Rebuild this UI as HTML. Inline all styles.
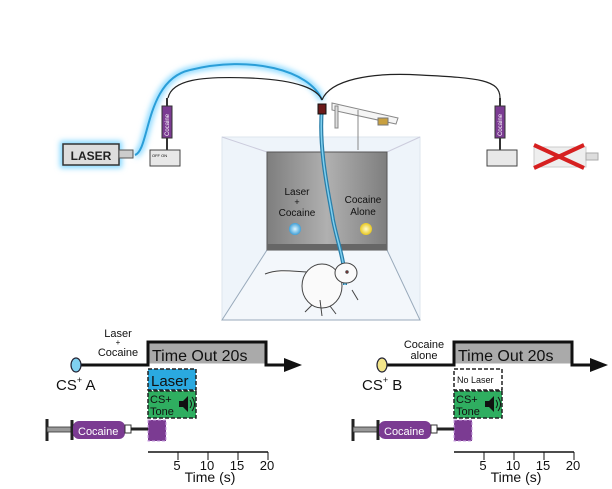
<!DOCTYPE html>
<html><head><meta charset="utf-8"><style>
html,body{margin:0;padding:0;background:#fff;width:612px;height:489px;overflow:hidden}
svg{display:block;font-family:"Liberation Sans",Arial,sans-serif}
</style></head><body>
<svg width="612" height="489" viewBox="0 0 612 489">
<defs>
<filter id="glow" x="-50%" y="-50%" width="200%" height="200%"><feGaussianBlur stdDeviation="3"/></filter>
<radialGradient id="blueL"><stop offset="0" stop-color="#e0f6ff"/><stop offset="1" stop-color="#3fa0d8"/></radialGradient>
<radialGradient id="yelL"><stop offset="0" stop-color="#fffbd0"/><stop offset="1" stop-color="#e8c820"/></radialGradient>
<linearGradient id="wallG" x1="0" x2="1"><stop offset="0" stop-color="#7e7e7e"/><stop offset="0.5" stop-color="#b0b0b0"/><stop offset="1" stop-color="#7e7e7e"/></linearGradient>
</defs>

<!-- chamber -->
<g>
<rect x="222" y="137" width="198" height="183" fill="#eef4fa" stroke="#dde6ee"/>
<line x1="222" y1="137" x2="267" y2="152" stroke="#ccd" />
<line x1="420" y1="137" x2="387" y2="152" stroke="#ccd"/>
<polygon points="267,250 387,250 420,320 222,320" fill="#f3f7fb" stroke="#9ab" stroke-width="1"/>
<rect x="267" y="152" width="120" height="98" fill="url(#wallG)" stroke="#555"/>
<rect x="267" y="244" width="120" height="6" fill="#666"/>
<text x="297" y="195" font-size="10" fill="#111" text-anchor="middle">Laser</text>
<text x="297" y="205" font-size="9" fill="#111" text-anchor="middle">+</text>
<text x="297" y="216" font-size="10" fill="#111" text-anchor="middle">Cocaine</text>
<text x="363" y="203" font-size="10" fill="#111" text-anchor="middle">Cocaine</text>
<text x="363" y="215" font-size="10" fill="#111" text-anchor="middle">Alone</text>
<circle cx="295" cy="229" r="6" fill="url(#blueL)"/>
<circle cx="366" cy="229" r="6" fill="url(#yelL)"/>
</g>

<!-- cables -->
<path d="M135,155 C150,150 145,80 190,70 C250,55 310,70 322,100" fill="none" stroke="#7fd6ff" stroke-width="6" filter="url(#glow)"/>
<path d="M135,155 C150,150 145,80 190,70 C250,55 310,70 322,100" fill="none" stroke="#2a9ed8" stroke-width="2"/>
<path d="M168,98 C172,80 200,76 250,78 C300,80 318,90 322,100" fill="none" stroke="#222" stroke-width="1.2"/>
<path d="M322,100 C330,80 370,72 420,75 C480,78 500,80 500,98" fill="none" stroke="#222" stroke-width="1.2"/>
<path d="M322,108 C318,150 330,200 333,220 C338,245 345,260 345,285" fill="none" stroke="#2a7ea8" stroke-width="4"/>
<path d="M322,108 C318,150 330,200 333,220 C338,245 345,260 345,285" fill="none" stroke="#7fd0f0" stroke-width="1.5"/>
<!-- swivel arm -->
<rect x="318" y="104" width="8" height="10" fill="#6b1a1a" stroke="#111"/>
<polygon points="332,103 398,118 396,124 332,110" fill="#f5f5f5" stroke="#888"/>
<rect x="378" y="118" width="10" height="7" fill="#c8a040" stroke="#777"/>
<line x1="358" y1="110" x2="358" y2="150" stroke="#888"/>
<rect x="335" y="106" width="3" height="22" fill="#ddd" stroke="#888"/>

<!-- laser -->
<g>
<rect x="60" y="141" width="62" height="27" fill="#7fd6ff" filter="url(#glow)"/>
<rect x="63" y="144" width="56" height="21" fill="#ddd" stroke="#333" stroke-width="1.5"/>
<text x="91" y="160" font-size="12" font-weight="bold" text-anchor="middle" fill="#222">LASER</text>
<rect x="119" y="150" width="14" height="8" fill="#ccc" stroke="#555"/>
</g>
<!-- left syringe pump -->
<g>
<rect x="162" y="106" width="10" height="32" fill="#7b3b92" stroke="#333"/>
<text transform="translate(169,136) rotate(-90)" font-size="6" fill="#fff">Cocaine</text>
<line x1="167" y1="98" x2="167" y2="106" stroke="#333" stroke-width="2"/>
<line x1="167" y1="138" x2="167" y2="150" stroke="#333" stroke-width="2"/>
<rect x="150" y="150" width="30" height="16" fill="#e8e8e8" stroke="#444"/>
<text x="152" y="157" font-size="4">OFF  ON</text>
</g>
<!-- right syringe pump -->
<g>
<rect x="495" y="106" width="10" height="32" fill="#7b3b92" stroke="#333"/>
<text transform="translate(502,136) rotate(-90)" font-size="6" fill="#fff">Cocaine</text>
<line x1="500" y1="98" x2="500" y2="106" stroke="#333" stroke-width="2"/>
<line x1="500" y1="138" x2="500" y2="150" stroke="#333" stroke-width="2"/>
<rect x="487" y="150" width="30" height="16" fill="#e8e8e8" stroke="#444"/>
</g>
<g>
<rect x="534" y="147" width="52" height="20" fill="#eee" stroke="#ccc"/>
<rect x="586" y="153" width="12" height="7" fill="#ddd" stroke="#aaa"/>
<line x1="534" y1="145" x2="584" y2="168" stroke="#d62020" stroke-width="4"/>
<line x1="534" y1="168" x2="584" y2="145" stroke="#d62020" stroke-width="4"/>
</g>
<!-- rat -->
<g fill="#fafafa" stroke="#444" stroke-width="1">
<path d="M265,274 C280,268 295,272 310,272"/>
<ellipse cx="322" cy="286" rx="20" ry="22"/>
<ellipse cx="346" cy="273" rx="11" ry="10"/>
<path d="M312,305 L305,312 M330,306 L336,314 M352,290 L358,300 M320,300 L322,316"/>
<circle cx="347" cy="272" r="1.2" fill="#a22"/>
</g>

<!-- timelines -->
<g id="tl"></g>
</svg>
<script>
const tickValues=[5,10,15,20];
const tickLabels=["5","10","15","20"];
const timeoutSec=[20];
const laserSec=[8];
const toneSec=[8];
const cocaineSec=[3];
const panels=[
 {x0:148,cs:"CS",csSup:"+",csSuf:" A",light:"#7fd0f0",top:["Laser","+","Cocaine"],laser:true},
 {x0:454,cs:"CS",csSup:"+",csSuf:" B",light:"#f2e58a",top:["Cocaine","alone"],laser:false}
];
const NS="http://www.w3.org/2000/svg";
const g=document.getElementById('tl');
function el(t,a,p){const e=document.createElementNS(NS,t);for(const k in a)e.setAttribute(k,a[k]);(p||g).appendChild(e);return e;}
const pxPerSec=6;
panels.forEach((p,i)=>{
 const sx=v=>p.x0+v*pxPerSec;
 const side=i===0?'left':'right';
 // main line
 let ln=el('path',{d:`M${p.x0-70},365 H${p.x0} V342 H${sx(timeoutSec[0])-2} V365 H${p.x0+140}`,fill:'none',stroke:'#111','stroke-width':3});
 
 
 el('rect',{x:p.x0+1.5,y:343.5,width:sx(timeoutSec[0])-p.x0-5,height:20,fill:'#aaa'});
 el('polygon',{points:`${p.x0+136},358 ${p.x0+154},365 ${p.x0+136},372`,fill:'#111'});
 let to=el('text',{x:p.x0+4,y:361,'font-size':16,fill:'#111'});to.textContent='Time Out 20s';
 
 
 // CS light
 const cx=p.x0-72;
 let c=el('ellipse',{cx:cx,cy:365,rx:5,ry:7,fill:p.light,stroke:'#223','stroke-width':1.2});
 
 
 let cs=el('text',{x:cx-20,y:390,'font-size':15,fill:'#111'});
 
 
 cs.innerHTML=`CS<tspan font-size="9" dy="-7">${p.csSup}</tspan><tspan dy="7">${p.csSuf}</tspan>`;
 // top label
 const ty=p.top.length===3?[337,345,356]:[348,359];
 p.top.forEach((s,k)=>{let t=el('text',{x:p.x0-30,y:ty[k],'font-size':p.top.length===3&&k===1?8:11,'text-anchor':'middle',fill:'#111'});t.textContent=s;});
 // laser box
 const lw=sx(laserSec[0])-p.x0;
 let lb=el('rect',{x:p.x0,y:369,width:lw,height:21,fill:p.laser?'#2aa9e0':'#fff',stroke:'#222','stroke-width':1.5,'stroke-dasharray':'4,2'});
 
 
 let lt=el('text',{x:p.x0+3,y:p.laser?386:383,'font-size':p.laser?15:9,fill:'#111'});lt.textContent=p.laser?'Laser':'No Laser';
 // tone box
 const tw=sx(toneSec[0])-p.x0;
 let tb=el('rect',{x:p.x0,y:391,width:tw,height:27,fill:'#2fae60',stroke:'#222','stroke-width':1.5,'stroke-dasharray':'4,2'});
 
 
 let t1=el('text',{x:p.x0+2,y:403,'font-size':11,fill:'#111'});t1.textContent='CS+';
 let t2=el('text',{x:p.x0+2,y:415,'font-size':11,fill:'#111'});t2.textContent='Tone';
 el('path',{d:`M${p.x0+31},401 h4 l5,-5 v16 l-5,-5 h-4 z`,fill:'#111'});
 el('path',{d:`M${p.x0+42},400 q3,4 0,8 M${p.x0+44},397 q5,7 0,14`,fill:'none',stroke:'#111','stroke-width':1});
 // cocaine infusion
 const cw=sx(cocaineSec[0])-p.x0;
 let cb=el('rect',{x:p.x0,y:420,width:cw,height:21,fill:'#7b3b92',stroke:'#c9a0e0','stroke-width':1,'stroke-dasharray':'3,2'});
 
 
 // syringe
 const s0=p.x0-101;
 el('line',{x1:s0,y1:419,x2:s0,y2:441,stroke:'#222','stroke-width':3});
 el('rect',{x:s0,y:427,width:24,height:5,fill:'#999',stroke:'#333','stroke-width':.8});
 el('line',{x1:s0+25,y1:420,x2:s0+25,y2:440,stroke:'#222','stroke-width':3});
 let sy=el('rect',{x:s0+26,y:421,width:52,height:18,rx:6,fill:'#7b3b92'});
 
 
 let st=el('text',{x:s0+31,y:435,'font-size':11,fill:'#fff'});st.textContent='Cocaine';
 el('rect',{x:s0+78,y:425,width:6,height:8,fill:'#fff',stroke:'#333'});
 el('line',{x1:s0+84,y1:429,x2:p.x0,y2:429,stroke:'#222','stroke-width':3});
 // axis
 let ax=el('line',{x1:p.x0,y1:452,x2:sx(20),y2:452,stroke:'#111','stroke-width':1.5});
 
 
 tickValues.forEach((v,k)=>{
  el('line',{x1:sx(v),y1:452,x2:sx(v),y2:460,stroke:'#111','stroke-width':1});
  let tl=el('text',{x:sx(v)-1,y:470,'font-size':13,'text-anchor':'middle',fill:'#111'});tl.textContent=tickLabels[k];
  
  
 });
 let at=el('text',{x:sx(10)+2,y:482,'font-size':14,'text-anchor':'middle',fill:'#111'});at.textContent='Time (s)';
 
 
});
</script>
</body></html>
